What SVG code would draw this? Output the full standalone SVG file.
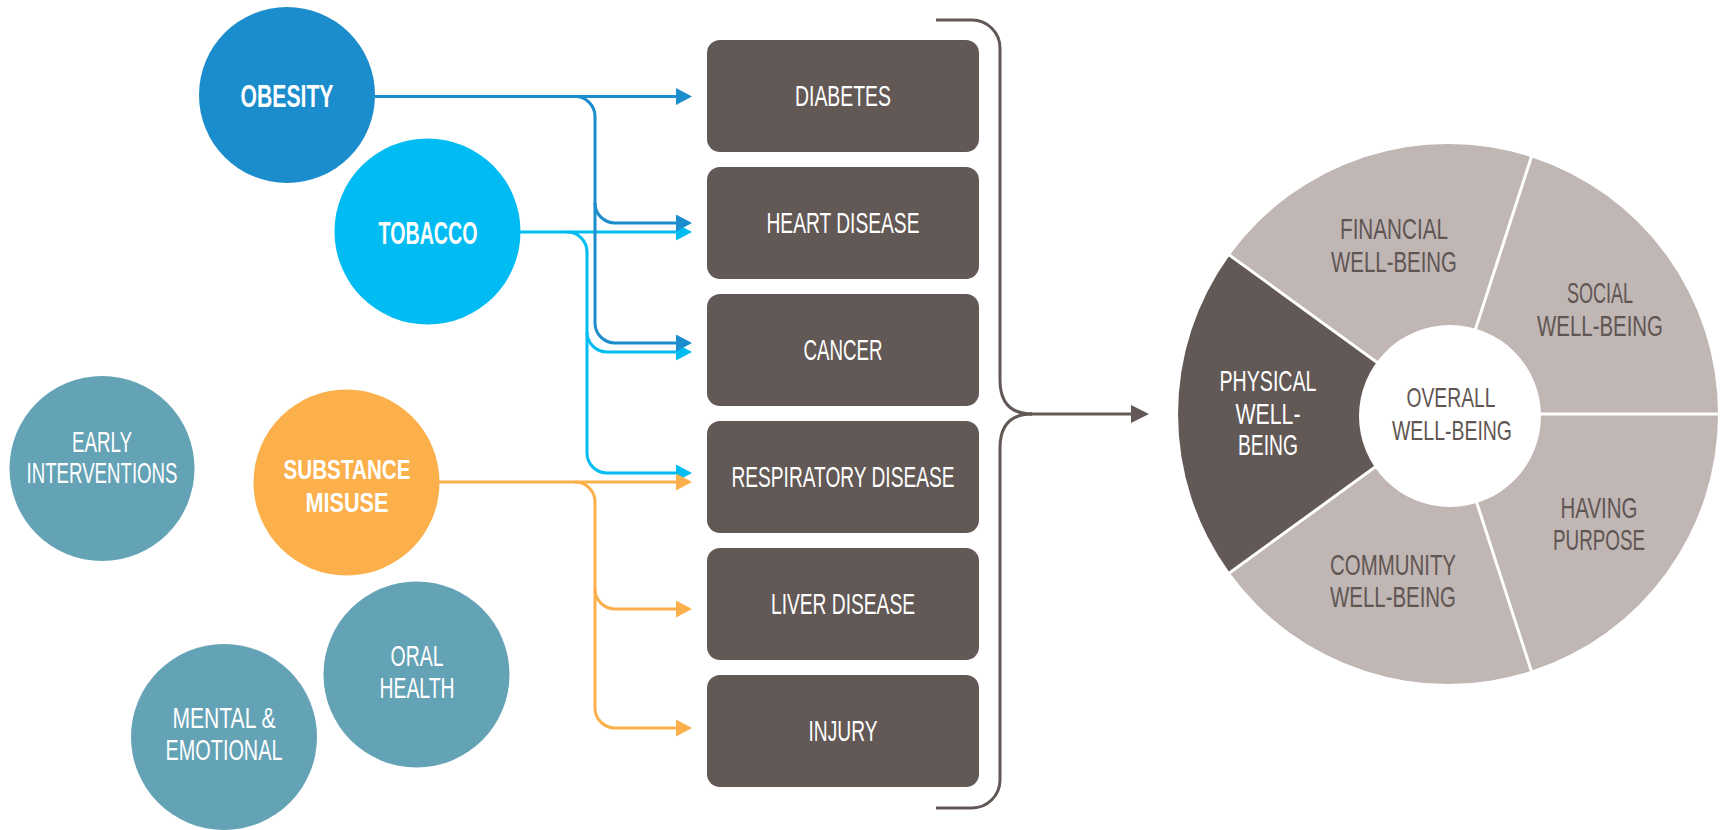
<svg xmlns="http://www.w3.org/2000/svg" width="1723" height="830" viewBox="0 0 1723 830">
<style>
text{font-family:'Liberation Sans Narrow','Liberation Sans',Arial,sans-serif;text-anchor:middle}
.w{fill:#ffffff}
.d{fill:#5f5553}
.r29{font-size:29px}
.r30{font-size:30px}
.b{font-weight:bold}
.box{fill:#625855}
.teal{fill:#64a2b6}
.seg{fill:#c0b6b3}
.segd{fill:#625855}
.div{stroke:#ffffff;stroke-width:3}
.ob{fill:none;stroke:#1b8ccc;stroke-width:3}
.tb{fill:none;stroke:#00bcf2;stroke-width:3}
.sb{fill:none;stroke:#fbb04b;stroke-width:3}
.br{fill:none;stroke:#625855;stroke-width:3}
</style>
<defs>
<marker id="aOb" markerUnits="userSpaceOnUse" markerWidth="16" markerHeight="17" refX="0" refY="8.5" orient="auto"><path d="M0,0 L16,8.5 L0,17 z" fill="#1b8ccc"/></marker>
<marker id="aTb" markerUnits="userSpaceOnUse" markerWidth="16" markerHeight="17" refX="0" refY="8.5" orient="auto"><path d="M0,0 L16,8.5 L0,17 z" fill="#00bcf2"/></marker>
<marker id="aSb" markerUnits="userSpaceOnUse" markerWidth="16" markerHeight="17" refX="0" refY="8.5" orient="auto"><path d="M0,0 L16,8.5 L0,17 z" fill="#fbb04b"/></marker>
<marker id="aBr" markerUnits="userSpaceOnUse" markerWidth="18" markerHeight="18" refX="0" refY="9" orient="auto"><path d="M0,0 L18,9 L0,18 z" fill="#625855"/></marker>
</defs>

<g id="connectors">
<path class="tb" d="M520,232 H676" marker-end="url(#aTb)"/>
<path class="tb" d="M567,232 A20,20 0 0 1 587,252 V332 A20,20 0 0 0 607,352 H676" marker-end="url(#aTb)"/>
<path class="tb" d="M587,332 V453 A20,20 0 0 0 607,473 H676" marker-end="url(#aTb)"/>
<path class="ob" d="M375,96.5 H676" marker-end="url(#aOb)"/>
<path class="ob" d="M575,96.5 A20,20 0 0 1 595,116.5 V203 A20,20 0 0 0 615,223 H676" marker-end="url(#aOb)"/>
<path class="ob" d="M595,203 V323 A20,20 0 0 0 615,343 H676" marker-end="url(#aOb)"/>
<path class="sb" d="M439,482 H676" marker-end="url(#aSb)"/>
<path class="sb" d="M575,482 A20,20 0 0 1 595,502 V589 A20,20 0 0 0 615,609 H676" marker-end="url(#aSb)"/>
<path class="sb" d="M595,589 V708 A20,20 0 0 0 615,728 H676" marker-end="url(#aSb)"/>
<path class="br" d="M936,20 H972 A28,28 0 0 1 1000,48 V380 C1000,402 1010,414 1032,414"/>
<path class="br" d="M1032,414 C1010,414 1000,426 1000,448 V780 A28,28 0 0 1 972,808 H936"/>
<path class="br" d="M1030,414 H1131" stroke-width="3.5" marker-end="url(#aBr)"/>
</g>

<g id="node-obesity">
<circle cx="287" cy="95" r="88" fill="#1b8ccc"/>
<text x="287" y="107" class="w b" font-size="31" textLength="93" lengthAdjust="spacingAndGlyphs">OBESITY</text>
</g>
<g id="node-tobacco">
<circle cx="427.5" cy="231.5" r="93" fill="#00bcf2"/>
<text x="428" y="244" class="w b" font-size="31" textLength="99" lengthAdjust="spacingAndGlyphs">TOBACCO</text>
</g>
<g id="node-early-interventions">
<circle cx="102" cy="468.5" r="92.5" class="teal"/>
<text x="102" y="452" class="w r29" textLength="60" lengthAdjust="spacingAndGlyphs">EARLY</text>
<text x="102" y="483" class="w r29" textLength="151" lengthAdjust="spacingAndGlyphs">INTERVENTIONS</text>
</g>
<g id="node-substance-misuse">
<circle cx="346.5" cy="482.5" r="93" fill="#fbb04b"/>
<text x="347" y="479" class="w b" font-size="28" textLength="127" lengthAdjust="spacingAndGlyphs">SUBSTANCE</text>
<text x="347" y="512" class="w b" font-size="28" textLength="83" lengthAdjust="spacingAndGlyphs">MISUSE</text>
</g>
<g id="node-mental-emotional">
<circle cx="224" cy="737" r="93" class="teal"/>
<text x="224" y="728" class="w r29" textLength="103" lengthAdjust="spacingAndGlyphs">MENTAL &amp;</text>
<text x="224" y="760" class="w r29" textLength="117" lengthAdjust="spacingAndGlyphs">EMOTIONAL</text>
</g>
<g id="node-oral-health">
<circle cx="416.5" cy="674.5" r="93" class="teal"/>
<text x="417" y="666" class="w r29" textLength="53" lengthAdjust="spacingAndGlyphs">ORAL</text>
<text x="417" y="698" class="w r29" textLength="75" lengthAdjust="spacingAndGlyphs">HEALTH</text>
</g>

<g id="node-diabetes"><rect x="707" y="40" width="272" height="112" rx="13" class="box"/><text x="843" y="106" class="w r29" textLength="96" lengthAdjust="spacingAndGlyphs">DIABETES</text></g>
<g id="node-heart-disease"><rect x="707" y="167" width="272" height="112" rx="13" class="box"/><text x="843" y="233" class="w r29" textLength="153" lengthAdjust="spacingAndGlyphs">HEART DISEASE</text></g>
<g id="node-cancer"><rect x="707" y="294" width="272" height="112" rx="13" class="box"/><text x="843" y="360" class="w r29" textLength="79" lengthAdjust="spacingAndGlyphs">CANCER</text></g>
<g id="node-respiratory-disease"><rect x="707" y="421" width="272" height="112" rx="13" class="box"/><text x="843" y="487" class="w r29" textLength="223" lengthAdjust="spacingAndGlyphs">RESPIRATORY DISEASE</text></g>
<g id="node-liver-disease"><rect x="707" y="548" width="272" height="112" rx="13" class="box"/><text x="843" y="614" class="w r29" textLength="144" lengthAdjust="spacingAndGlyphs">LIVER DISEASE</text></g>
<g id="node-injury"><rect x="707" y="675" width="272" height="112" rx="13" class="box"/><text x="843" y="741" class="w r29" textLength="69" lengthAdjust="spacingAndGlyphs">INJURY</text></g>

<g id="node-wheel">
<g id="seg-social"><path class="seg" d="M1448,414 L1718,414 A270,270 0 0 0 1531.4,157.2 Z"/>
<text x="1600" y="303" class="d r30" textLength="66" lengthAdjust="spacingAndGlyphs">SOCIAL</text>
<text x="1600" y="336" class="d r30" textLength="126" lengthAdjust="spacingAndGlyphs">WELL-BEING</text></g>
<g id="seg-financial"><path class="seg" d="M1448,414 L1531.4,157.2 A270,270 0 0 0 1229.6,255.3 Z"/>
<text x="1394" y="239" class="d r29" textLength="108" lengthAdjust="spacingAndGlyphs">FINANCIAL</text>
<text x="1394" y="272" class="d r29" textLength="126" lengthAdjust="spacingAndGlyphs">WELL-BEING</text></g>
<g id="seg-physical"><path class="segd" d="M1448,414 L1229.6,255.3 A270,270 0 0 0 1229.6,572.7 Z"/>
<text x="1268" y="391" class="w r30" textLength="97" lengthAdjust="spacingAndGlyphs">PHYSICAL</text>
<text x="1268" y="424" class="w r30" textLength="65" lengthAdjust="spacingAndGlyphs">WELL-</text>
<text x="1268" y="455" class="w r30" textLength="60" lengthAdjust="spacingAndGlyphs">BEING</text></g>
<g id="seg-community"><path class="seg" d="M1448,414 L1229.6,572.7 A270,270 0 0 0 1531.4,670.8 Z"/>
<text x="1393" y="575" class="d r30" textLength="126" lengthAdjust="spacingAndGlyphs">COMMUNITY</text>
<text x="1393" y="607" class="d r30" textLength="126" lengthAdjust="spacingAndGlyphs">WELL-BEING</text></g>
<g id="seg-purpose"><path class="seg" d="M1448,414 L1531.4,670.8 A270,270 0 0 0 1718,414 Z"/>
<text x="1599" y="518" class="d r30" textLength="77" lengthAdjust="spacingAndGlyphs">HAVING</text>
<text x="1599" y="550" class="d r30" textLength="92" lengthAdjust="spacingAndGlyphs">PURPOSE</text></g>
<g id="dividers">
<line class="div" x1="1448" y1="414" x2="1720" y2="414"/>
<line class="div" x1="1448" y1="414" x2="1532" y2="155"/>
<line class="div" x1="1448" y1="414" x2="1228" y2="254"/>
<line class="div" x1="1448" y1="414" x2="1228" y2="574"/>
<line class="div" x1="1448" y1="414" x2="1532" y2="673"/>
</g>
<g id="node-overall">
<circle cx="1450" cy="416" r="91" fill="#ffffff"/>
<text x="1451" y="407" class="d" font-size="28" textLength="89" lengthAdjust="spacingAndGlyphs">OVERALL</text>
<text x="1452" y="440" class="d" font-size="28" textLength="120" lengthAdjust="spacingAndGlyphs">WELL-BEING</text>
</g>
</g>
</svg>
